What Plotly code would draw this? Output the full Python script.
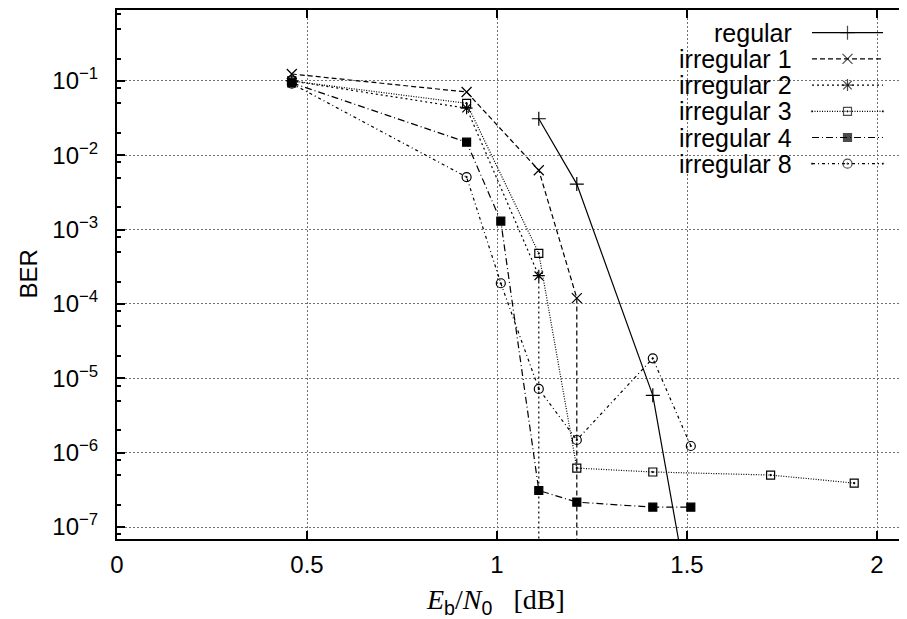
import numpy as np
import plotly.graph_objects as go

# BER 곡선 데이터
names = ['regular', 'irregular 1', 'irregular 2', 'irregular 3', 'irregular 4', 'irregular 8']

x_regular = [1.11, 1.21, 1.41, 1.51]
y_regular = [3.1e-2, 4.1e-3, 5.9e-6, 8e-9]

x_irr1 = [0.46, 0.92, 1.11, 1.21, 1.21]
y_irr1 = [0.124, 0.071, 6.3e-3, 1.2e-4, 1e-9]

x_irr2 = [0.46, 0.92, 1.11, 1.11]
y_irr2 = [0.10, 0.043, 2.4e-4, 1e-9]

x_irr3 = [0.46, 0.92, 1.11, 1.21, 1.41, 1.72, 1.94]
y_irr3 = [0.10, 0.050, 4.8e-4, 6.2e-7, 5.5e-7, 5.0e-7, 3.9e-7]

x_irr4 = [0.46, 0.92, 1.01, 1.11, 1.21, 1.41, 1.51]
y_irr4 = [0.094, 0.015, 1.3e-3, 3.1e-7, 2.16e-7, 1.85e-7, 1.85e-7]

x_irr8 = [0.46, 0.92, 1.01, 1.11, 1.21, 1.41, 1.51]
y_irr8 = [0.092, 5.1e-3, 1.9e-4, 7.2e-6, 1.48e-6, 1.86e-5, 1.23e-6]

x_tickvals = [0, 0.5, 1, 1.5, 2]
x_ticktext = ['0', '0.5', '1', '1.5', '2']
y_exponents = [-1, -2, -3, -4, -5, -6, -7]

xs = [x_regular, x_irr1, x_irr2, x_irr3, x_irr4, x_irr8]
ys = [y_regular, y_irr1, y_irr2, y_irr3, y_irr4, y_irr8]

# 선/마커 스타일 (gnuplot 흑백 스타일 흉내)
dashes = ['solid', '5px,3px', '2px,3px', '1px,1.5px', '7px,3px,1px,3px', '3px,3px,1px,3px']
symbols = ['cross-thin', 'x-thin', 'asterisk', 'square-open-dot', 'square', 'circle-open-dot']
sizes = [10, 10, 10, 8, 8, 9]

FONT = 'Liberation Sans'
FS = 24
OFF = 8  # 페이지 body 여백만큼 그림을 줄임
W, H = 907 - OFF, 619 - OFF
# 화면 좌표 기준 플롯 영역
left, top, bottom = 117, 10, 539
ML, MR, MT, MB = left - OFF, 0, top - OFF, H - (bottom - OFF)
plot_w = W - ML - MR
plot_h = H - MT - MB


def px_x(sx):
    return (sx - left) / plot_w


def px_y(sy):
    return (bottom - sy) / plot_h


fig = go.Figure()

for i in range(len(names)):
    fig.add_trace(go.Scatter(
        x=xs[i], y=ys[i], mode='lines+markers', name=names[i], showlegend=False,
        line=dict(color='black', width=1.2, dash=dashes[i]),
        marker=dict(symbol=symbols[i], size=sizes[i], color='black',
                    line=dict(color='black', width=1.2))))

# 범례: gnuplot 식으로 텍스트 오른쪽에 샘플
row_top = 32.7
row_step = 26.2
text_right = 794
samp_l, samp_r = 812, 883
for i, nm in enumerate(names):
    yp = px_y(row_top + i * row_step)
    fig.add_annotation(x=px_x(text_right), y=yp, xref='paper', yref='paper',
                       text=nm, showarrow=False, xanchor='right', yanchor='middle',
                       font=dict(family=FONT, size=FS + 1, color='black'))
    x0, x1 = px_x(samp_l), px_x(samp_r)
    fig.add_trace(go.Scatter(
        x=[x0, (x0 + x1) / 2, x1], y=[yp, yp, yp], xaxis='x2', yaxis='y2',
        mode='lines+markers', showlegend=False, hoverinfo='skip',
        line=dict(color='black', width=1.2, dash=dashes[i]),
        marker=dict(symbol=symbols[i], size=[0, sizes[i], 0], color='black',
                    line=dict(color='black', width=1.2))))

minor_vals = [m * 10.0 ** e for e in range(-8, 0) for m in (2, 5, 8)]

fig.update_layout(
    width=W, height=H,
    margin=dict(l=ML, r=MR, t=MT, b=MB),
    paper_bgcolor='white', plot_bgcolor='white',
    font=dict(family=FONT, size=FS, color='black'),
    xaxis=dict(range=[0, plot_w / 380], tickvals=x_tickvals, ticktext=x_ticktext,
               showline=True, linecolor='black', linewidth=2, mirror='ticks',
               ticks='inside', ticklen=8, tickwidth=2, tickcolor='black',
               showgrid=True, gridcolor='#707070', griddash='2px,2px', gridwidth=1,
               zeroline=False, ticklabelstandoff=3, automargin=False),
    yaxis=dict(type='log', range=[np.log10(6.9e-8), np.log10(0.9)],
               tickvals=[10.0 ** e for e in y_exponents],
               ticktext=['10<sup>\u2212%d</sup>' % (-e) for e in y_exponents],
               showline=True, linecolor='black', linewidth=2, mirror=False,
               ticks='inside', ticklen=8, tickwidth=2, tickcolor='black',
               minor=dict(tickvals=minor_vals, ticks='inside', ticklen=4, tickwidth=2,
                          tickcolor='black', showgrid=False),
               showgrid=True, gridcolor='#707070', griddash='2px,2px', gridwidth=1,
               zeroline=False, ticklabelstandoff=12, automargin=False),
    xaxis2=dict(overlaying='x', anchor='y2', range=[0, 1], visible=False),
    yaxis2=dict(overlaying='y', anchor='x2', range=[0, 1], visible=False),
)

# 축 제목
fig.add_annotation(x=px_x(28), y=0.5, xref='paper', yref='paper',
                   text='BER', textangle=-90, showarrow=False,
                   xanchor='center', yanchor='middle',
                   font=dict(family=FONT, size=FS, color='black'))
sub_b = '<sub><span style="font-family:Liberation Sans">b</span></sub>'
sub_0 = '<sub><span style="font-family:Liberation Sans">0</span></sub>'
fig.add_annotation(x=px_x(495), y=px_y(601), xref='paper', yref='paper',
                   text='<i>E</i>' + sub_b + '/<i>N</i>' + sub_0 + '\u2002 [dB]', showarrow=False,
                   xanchor='center', yanchor='middle',
                   font=dict(family='Liberation Serif', size=28, color='black'))

fig.write_html("out.html")
